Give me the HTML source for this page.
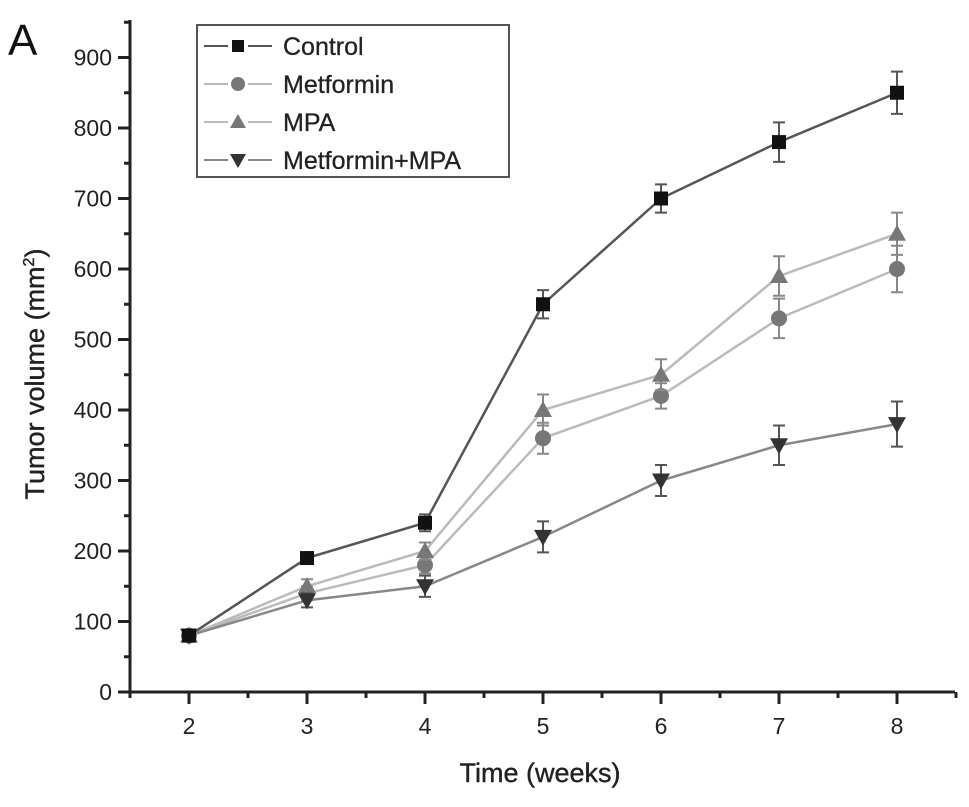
<!DOCTYPE html>
<html><head><meta charset="utf-8"><style>
body{margin:0;background:#fff;}
svg text{font-family:"Liberation Sans",Arial,sans-serif;}
</style></head><body>
<svg id="chart" width="969" height="802" viewBox="0 0 969 802" xmlns="http://www.w3.org/2000/svg">
<text x="8" y="55" font-size="44" fill="#111">A</text>
<g id="axes"></g>
<g id="series"></g>
<g id="legend">
<rect x="197" y="25" width="312" height="152" fill="#fff" stroke="#555" stroke-width="2"/>
</g>
<text x="540" y="782" font-size="27" text-anchor="middle" fill="#222" stroke="#222" stroke-width="0.4">Time (weeks)</text>
<text transform="translate(44,374) rotate(-90)" font-size="27" text-anchor="middle" fill="#222" stroke="#222" stroke-width="0.4">Tumor volume (mm<tspan dy="-10" font-size="16">2</tspan><tspan dy="10">)</tspan></text>
</svg>
<script>
const weeks=[2,3,4,5,6,7,8];
const yTicks=[0,100,200,300,400,500,600,700,800,900];
const seriesNames=["Control","Metformin","MPA","Metformin+MPA"];
const controlVals=[80,190,240,550,700,780,850];
const controlErr=[5,8,12,20,20,28,30];
const metforminVals=[80,140,180,360,420,530,600];
const metforminErr=[5,10,12,22,18,28,33];
const mpaVals=[80,150,200,400,450,590,650];
const mpaErr=[5,10,12,22,22,28,30];
const comboVals=[80,130,150,220,300,350,380];
const comboErr=[5,10,15,22,22,28,32];

const NS="http://www.w3.org/2000/svg";
const X=v=>189+(v-2)*118;
const Y=v=>692-v*0.705;
function mk(tag,attrs,parent){const e=document.createElementNS(NS,tag);for(const k in attrs)e.setAttribute(k,attrs[k]);parent.appendChild(e);return e;}
const axes=document.getElementById('axes');
let e=mk('line',{x1:130,y1:692,x2:955,y2:692,stroke:'#222','stroke-width':3},axes);


e=mk('line',{x1:130,y1:20,x2:130,y2:693,stroke:'#222','stroke-width':3},axes);


for(let i=0;i<weeks.length;i++){
  const w=weeks[i];
  e=mk('line',{x1:X(w),y1:692,x2:X(w),y2:704,stroke:'#222','stroke-width':3},axes);
  
  
  e=mk('text',{x:X(w),y:734,'font-size':23,'text-anchor':'middle',fill:'#222'},axes);
  e.textContent=w;
  
  
}
for(let w=1.5;w<=8.6;w+=1){
  e=mk('line',{x1:X(w),y1:692,x2:X(w),y2:698,stroke:'#222','stroke-width':3},axes);
  
  
}
for(let i=0;i<yTicks.length;i++){
  const t=yTicks[i];
  e=mk('line',{x1:118,y1:Y(t),x2:130,y2:Y(t),stroke:'#222','stroke-width':3},axes);
  
  
  e=mk('text',{x:112,y:Y(t)+8,'font-size':23,'text-anchor':'end',fill:'#222'},axes);
  e.textContent=t;
  
  
  e=mk('line',{x1:124,y1:Y(t+50),x2:130,y2:Y(t+50),stroke:'#222','stroke-width':3},axes);
  
  
}
const styles=[
 {vals:controlVals,err:controlErr,line:'#555',mark:'#111',shape:'square'},
 {vals:metforminVals,err:metforminErr,line:'#bbb',mark:'#777',shape:'circle'},
 {vals:mpaVals,err:mpaErr,line:'#bbb',mark:'#777',shape:'up'},
 {vals:comboVals,err:comboErr,line:'#888',mark:'#333',shape:'down'}
];
function marker(shape,x,y,fill,parent,s){
  if(shape==='square')return mk('rect',{x:x-s,y:y-s,width:2*s,height:2*s,fill},parent);
  if(shape==='circle')return mk('circle',{cx:x,cy:y,r:s+1,fill},parent);
  if(shape==='up')return mk('polygon',{points:`${x},${y-s-2} ${x-s-2},${y+s} ${x+s+2},${y+s}`,fill},parent);
  return mk('polygon',{points:`${x},${y+s+2} ${x-s-2},${y-s} ${x+s+2},${y-s}`,fill},parent);
}
const sg=document.getElementById('series');
const order=[1,2,3,0];
order.forEach(si=>{
  const st=styles[si];
  const g=mk('g',{},sg);
  
  
  e=mk('polyline',{points:weeks.map((w,i)=>X(w)+','+Y(st.vals[i])).join(' '),fill:'none',stroke:st.line,'stroke-width':2.5},g);
  
  
  weeks.forEach((w,i)=>{
    const x=X(w),y1=Y(st.vals[i]+st.err[i]),y2=Y(st.vals[i]-st.err[i]);
    e=mk('path',{d:`M${x},${y1}V${y2}M${x-6},${y1}H${x+6}M${x-6},${y2}H${x+6}`,stroke:st.line==='#bbb'?'#888':'#555','stroke-width':2,fill:'none'},g);
    
    
    e=marker(st.shape,x,Y(st.vals[i]),st.mark,g,7);
    
    
  });
});
const lg=document.getElementById('legend');
styles.forEach((st,i)=>{
  const y=46+i*38;
  e=mk('line',{x1:204,y1:y,x2:272,y2:y,stroke:st.line,'stroke-width':2},lg);
  
  
  e=mk('rect',{x:228,y:y-10,width:20,height:20,fill:'#fff'},lg);
  e=marker(st.shape,238,y,st.mark,lg,6);
  
  
  e=mk('text',{x:283,y:y+9,'font-size':25,fill:'#222',stroke:'#222','stroke-width':0.3},lg);
  e.textContent=seriesNames[i];
  
  
});
</script>
</body></html>
